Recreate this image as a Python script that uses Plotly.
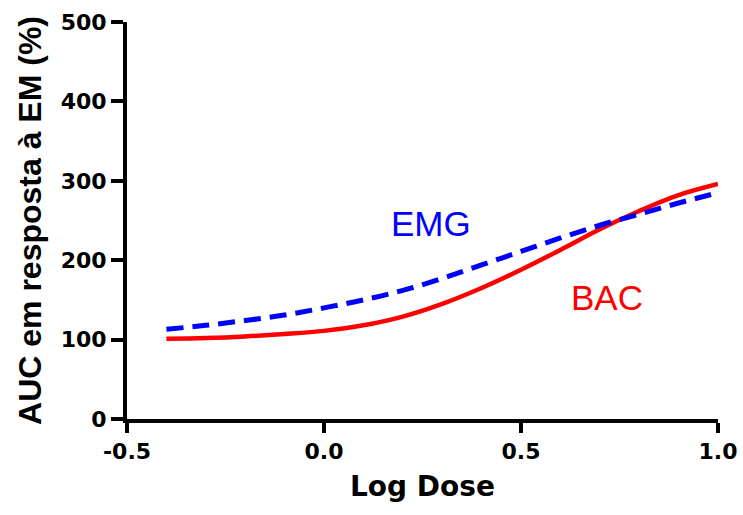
import plotly.graph_objects as go

log_dose = [-0.4, -0.3, -0.2, -0.1, 0.0, 0.1, 0.2, 0.3, 0.4, 0.5, 0.6, 0.7, 0.8, 0.9, 1.0]
bac = [101, 102, 104, 107, 111, 118, 129, 145, 165, 188, 213, 239, 262, 282, 296]
emg = [113, 118, 124, 131, 140, 150, 162, 177, 194, 211, 228, 244, 258, 272, 285]

x_ticks = [-0.5, 0.0, 0.5, 1.0]
x_tick_text = ["-0.5", "0.0", "0.5", "1.0"]
y_ticks = [0, 100, 200, 300, 400, 500]

AXFONT = "DejaVu Sans, sans-serif"
YFONT = "Liberation Sans, Arial, sans-serif"
LBLFONT = "Liberation Sans, Arial, sans-serif"

fig = go.Figure()
fig.add_trace(go.Scatter(x=log_dose, y=bac, mode="lines", line=dict(color="#ff0000", width=4.5, shape="spline", smoothing=1.0),
                         name="BAC", showlegend=False))
fig.add_trace(go.Scatter(x=log_dose, y=emg, mode="lines", line=dict(color="#0000ff", width=5, shape="spline", smoothing=1.0, dash="17px,9px"),
                         name="EMG", showlegend=False))

fig.add_annotation(x=0.272, y=246, text="EMG", showarrow=False, font=dict(family=LBLFONT, size=35, color="#0000ff"))
fig.add_annotation(x=0.718, y=153, text="BAC", showarrow=False, font=dict(family=LBLFONT, size=35, color="#ff0000"))

fig.update_layout(
    width=743, height=515,
    margin=dict(l=127, r=25, t=22, b=96, autoexpand=False),
    plot_bgcolor="white", paper_bgcolor="white",
    font=dict(family=AXFONT, color="black"),
)
fig.update_xaxes(range=[-0.5, 1.0], tickvals=x_ticks, ticktext=x_tick_text, automargin=False,
                 showline=True, linecolor="black", linewidth=4, showgrid=False, zeroline=False,
                 ticks="outside", ticklen=10, tickwidth=4, tickcolor="black",
                 tickfont=dict(family=AXFONT, size=22, color="black", weight="bold"),
                 title=dict(text="Log Dose", font=dict(family=AXFONT, size=28, color="black", weight="bold"), standoff=14))
fig.update_yaxes(range=[0, 500], tickvals=y_ticks, automargin=False,
                 showline=True, linecolor="black", linewidth=4, showgrid=False, zeroline=False,
                 ticks="outside", ticklen=12, tickwidth=4, tickcolor="black",
                 tickfont=dict(family=AXFONT, size=22, color="black", weight="bold"),
                 title=dict(text="AUC em resposta à EM (%)", font=dict(family=YFONT, size=32, color="black", weight="bold"), standoff=10))

fig.write_html("out.html")
